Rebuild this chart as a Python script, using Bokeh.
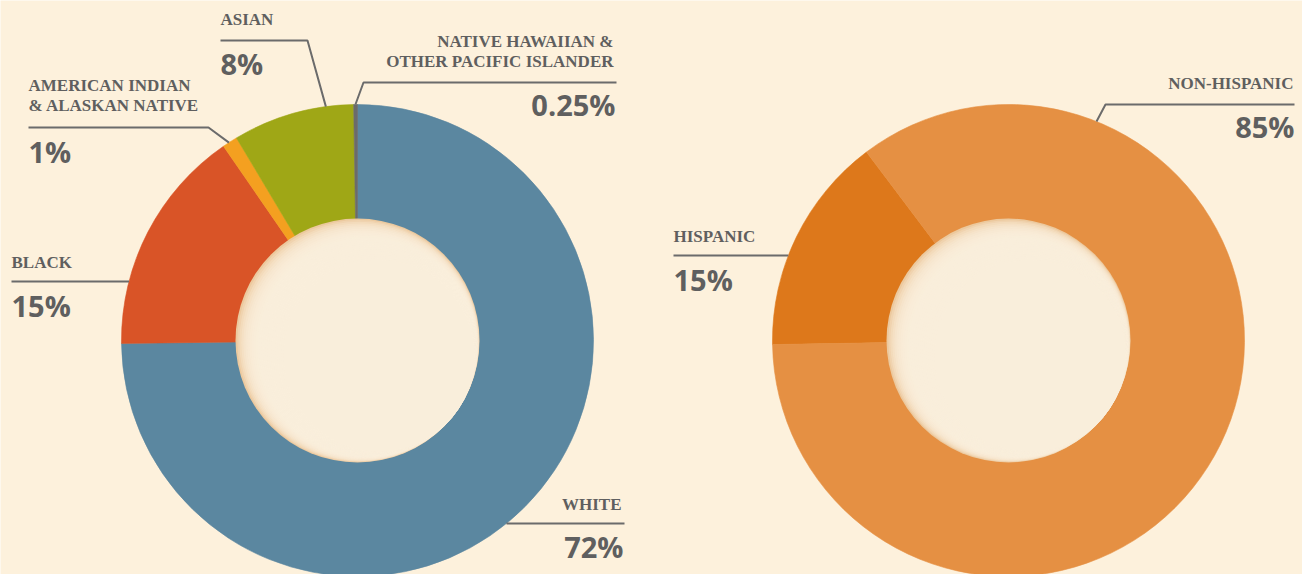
import math
from bokeh.plotting import figure
from bokeh.models import Range1d
from bokeh.core.properties import value
from bokeh.embed import file_html
from bokeh.resources import INLINE

# ---------------- data ----------------
race_names = ["WHITE", "BLACK", "AMERICAN INDIAN|& ALASKAN NATIVE", "ASIAN",
              "NATIVE HAWAIIAN &|OTHER PACIFIC ISLANDER"]
race_values = [72, 15, 1, 8, 0.25]
race_pct = ["72%", "15%", "1%", "8%", "0.25%"]
race_colors = ["#5b87a0", "#d95427", "#f4a020", "#9fa716", "#6b6b6b"]

eth_names = ["HISPANIC", "NON-HISPANIC"]
eth_values = [15, 85]
eth_pct = ["15%", "85%"]
eth_colors = ["#dd781b", "#e59043"]

# ---------------- layout ----------------
BG = "#fdf1dc"
SHADOW = "#ecc99e"
TXT = "#5f5f5f"
LINE = "#6b6b6b"
W, H = 1302, 574
NAME_SHIFT, PCT_SHIFT = 6.5, 11  # compensate renderer baseline offset (px)


def Y(wy):
    return H - wy


R_OUT, R_IN = 236, 122

donuts = [
    dict(cx=357, cy=340, start=0.0, values=race_values, colors=race_colors,
         names=race_names, pct=race_pct,
         labels=[
             dict(align="right", tx=621, nb=[510], px=623, pb=557, ly=523, lx=624, ex=None, ang=None, side=1),
             dict(align="left", tx=11, nb=[268], px=11, pb=316, ly=281, lx=11, ex=None, ang=None, side=-1),
             dict(align="left", tx=28, nb=[91, 111], px=28, pb=162, ly=127, lx=28, ex=208, ang=327.0, side=-1),
             dict(align="left", tx=220, nb=[25], px=220, pb=74, ly=40, lx=220, ex=307, ang=352.3, side=-1),
             dict(align="right", tx=613, nb=[47, 67], px=615, pb=115, ly=82, lx=616, ex=363, ang=359.5, side=1),
         ]),
    dict(cx=1008, cy=340, start=269.0, values=eth_values, colors=eth_colors,
         names=eth_names, pct=eth_pct,
         labels=[
             dict(align="left", tx=673, nb=[242], px=673, pb=290, ly=255, lx=673, ex=None, ang=None, side=-1),
             dict(align="right", tx=1293, nb=[89], px=1294, pb=137, ly=104, lx=1294, ex=1105, ang=21.9, side=1),
         ]),
]

p = figure(width=W, height=H, x_range=Range1d(0, W), y_range=Range1d(0, H),
           output_backend="svg", toolbar_location=None, min_border=0,
           x_axis_type=None, y_axis_type=None)
p.grid.visible = False
p.outline_line_color = None
p.background_fill_color = BG
p.border_fill_color = BG

for d in donuts:
    cx, cy = d["cx"], Y(d["cy"])
    total = float(sum(d["values"]))
    cum = 0.0
    starts, ends = [], []
    for v in d["values"]:
        a = d["start"] + 360.0 * cum / total
        cum += v
        b = d["start"] + 360.0 * cum / total
        starts.append(math.radians(90.0 - b))
        ends.append(math.radians(90.0 - a))
    n = len(d["values"])
    p.annular_wedge(x=[cx] * n, y=[cy] * n, inner_radius=R_IN - 2, outer_radius=R_OUT,
                    start_angle=starts, end_angle=ends, fill_color=d["colors"],
                    line_color=d["colors"], line_width=0.6)

    # hole with soft inner shadow (upper-left)
    p.circle(x=[cx], y=[cy], radius=R_IN, fill_color=SHADOW, line_color=None)
    ux, uy = math.cos(math.radians(-35)), math.sin(math.radians(-35))
    for k in range(24):
        dk = 1.0 + k * 1.1
        p.circle(x=[cx + ux * dk], y=[cy + uy * dk], radius=R_IN - dk,
                 fill_color=BG, fill_alpha=0.27, line_color=None)

    for lab, name, pct in zip(d["labels"], d["names"], d["pct"]):
        ly = Y(lab["ly"])
        if lab["ex"] is None:
            dy = ly - cy
            ex = cx + lab["side"] * math.sqrt(R_OUT ** 2 - dy ** 2)
            xs, ys = [lab["lx"], ex], [ly, ly]
        else:
            th = math.radians(lab["ang"])
            axp = cx + R_OUT * math.sin(th)
            ayp = cy + R_OUT * math.cos(th)
            xs, ys = [lab["lx"], lab["ex"], axp], [ly, ly, ayp]
        p.line(xs, ys, line_color=LINE, line_width=2)
        lines = name.split("|")
        p.text(x=[lab["tx"]] * len(lines), y=[Y(b - NAME_SHIFT) for b in lab["nb"]], text=lines,
               text_font=value("Liberation Serif"), text_font_style="bold",
               text_font_size="17px", text_color=TXT, text_align=lab["align"],
               text_baseline="alphabetic")
        p.text(x=[lab["px"]], y=[Y(lab["pb"] - PCT_SHIFT)], text=[pct],
               text_font=value("Open Sans"), text_font_style="bold",
               text_font_size="29px", text_color=TXT, text_align=lab["align"],
               text_baseline="alphabetic")

open("out.html", "w").write(file_html(p, INLINE))
